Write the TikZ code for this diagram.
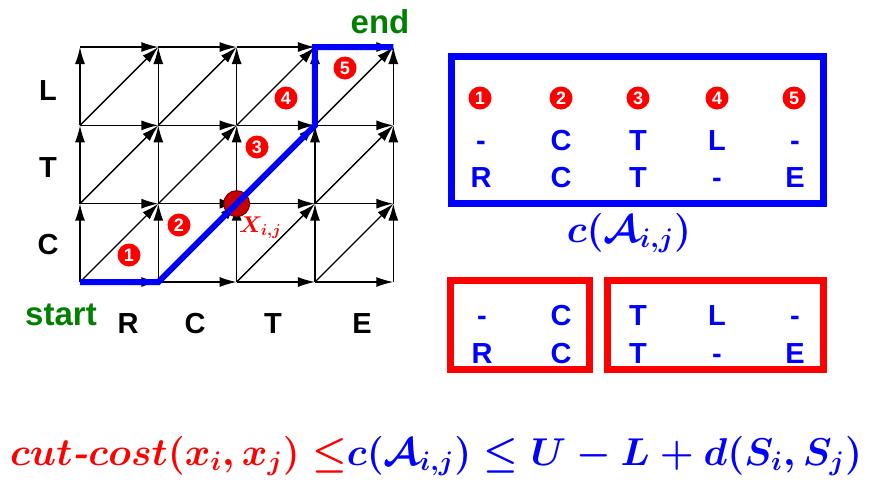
\documentclass[tikz,border=0pt]{standalone}
\usepackage{graphicx}
\usepackage{fontspec}
\newfontfamily\hv{Liberation Sans}
\usetikzlibrary{arrows.meta}
\definecolor{dgreen}{RGB}{0,128,0}
\definecolor{dred}{RGB}{200,0,0}
\definecolor{ddred}{RGB}{110,0,0}
\definecolor{pblue}{RGB}{0,0,255}
\definecolor{pred}{RGB}{255,0,0}
\newcommand{\bigmath}[1]{\scalebox{1.87}{\fontsize{20.74}{24}\selectfont\boldmath$#1$}}
\begin{document}
\begin{tikzpicture}[x=1pt,y=-1pt,
  arr/.style={-{Latex[length=17pt,width=10pt]}, line width=1.4pt, black},
  letter/.style={anchor=base, inner sep=0pt, font=\hv\bfseries\fontsize{29}{30}\selectfont},
  boxtxt/.style={letter, text=pblue},
  greentxt/.style={anchor=base, inner sep=0pt, text=dgreen, font=\hv\bfseries\fontsize{33}{34}\selectfont},
  num/.style={circle, fill=pred, text=white, inner sep=0pt, minimum size=23pt, font=\hv\bfseries\fontsize{18}{18}\selectfont},
  bluebox/.style={draw=pblue, line width=7pt},
  redbox/.style={draw=pred, line width=7pt},
  mathlbl/.style={inner sep=0pt}
]
\useasboundingbox (0,0) rectangle (884,480);
% grid points
\foreach \i in {0,...,4} \foreach \j in {0,...,3}
  \coordinate (g\i\j) at ({80+78.33*\i},{282-78.33*\j});
% horizontal arrows
\foreach \i in {0,...,3} \foreach \j in {0,...,3} {
  \pgfmathtruncatemacro{\ii}{\i+1}
  \draw[arr] (g\i\j) -- (g\ii\j);
}
% vertical arrows
\foreach \i in {0,...,4} \foreach \j in {0,...,2} {
  \pgfmathtruncatemacro{\jj}{\j+1}
  \draw[arr] (g\i\j) -- (g\i\jj);
}
% diagonal arrows
\foreach \i in {0,...,3} \foreach \j in {0,...,2} {
  \pgfmathtruncatemacro{\ii}{\i+1}
  \pgfmathtruncatemacro{\jj}{\j+1}
  \draw[arr] (g\i\j) -- (g\ii\jj);
}
% red point
\node[circle, fill=dred, draw=ddred, line width=1pt, minimum size=26pt, inner sep=0pt] (xp) at (g21) {};
% blue path
\draw[pblue, line width=6pt] (g00) -- (g10) -- (g32) -- (g33) -- (g43);
\node[anchor=base west, inner sep=0pt, text=pred] (xl) at (239,232) {\scalebox{1.1}{\fontsize{20.74}{24}\selectfont\boldmath$X_{i,j}$}};
% numbered markers in grid
\node[num] (m1) at (129,255) {1};
\node[num] (m2) at (179,225) {2};
\node[num] (m3) at (257,147) {3};
\node[num] (m4) at (286,98) {4};
\node[num] (m5) at (345,68) {5};
% row / column labels
\node[letter] (rl) at (48,100) {L};
\node[letter] (rt) at (48,177) {T};
\node[letter] (rc) at (48,254) {C};
\node[letter] (cr) at (128,333) {R};
\node[letter] (cc) at (195,333) {C};
\node[letter] (ct) at (273,333) {T};
\node[letter] (ce) at (362,333) {E};
\node[greentxt] (start) at (61,325) {start};
\node[greentxt] (end) at (380,33) {end};
% blue box
\draw[bluebox] (451.5,56.5) rectangle (823.5,203.5);
\node[num] (b1) at (480,98) {1};
\node[num] (b2) at (561,98) {2};
\node[num] (b3) at (638,98) {3};
\node[num] (b4) at (717,98) {4};
\node[num] (b5) at (794,98) {5};
\node[boxtxt] (bt1) at (481,150) {-};
\node[boxtxt] (bt2) at (561,150) {C};
\node[boxtxt] (bt3) at (638,150) {T};
\node[boxtxt] (bt4) at (717,150) {L};
\node[boxtxt] (bt5) at (795,150) {-};
\node[boxtxt] (bb1) at (481,187) {R};
\node[boxtxt] (bb2) at (561,187) {C};
\node[boxtxt] (bb3) at (638,187) {T};
\node[boxtxt] (bb4) at (717,187) {-};
\node[boxtxt] (bb5) at (795,187) {E};
\node[mathlbl, text=pblue] (costlabel) at (629,233) {\bigmath{c(\mathcal{A}_{i,j})}};
% red boxes
\draw[redbox] (450.5,280.5) rectangle (589.5,369.5);
\draw[redbox] (607.5,280.5) rectangle (823.5,369.5);
\node[boxtxt] (rt1) at (482,325) {-};
\node[boxtxt] (rt2) at (561,325) {C};
\node[boxtxt] (rt3) at (638,325) {T};
\node[boxtxt] (rt4) at (717,325) {L};
\node[boxtxt] (rt5) at (795,325) {-};
\node[boxtxt] (rb1) at (482,363) {R};
\node[boxtxt] (rb2) at (561,363) {C};
\node[boxtxt] (rb3) at (638,363) {T};
\node[boxtxt] (rb4) at (717,363) {-};
\node[boxtxt] (rb5) at (795,363) {E};
% formula
\node[mathlbl, anchor=base] (formula) at (436,465) {\bigmath{\color{pred}cut\textbf{\textit{-}}cost(x_i,x_j)\;{\le}\color{pblue}c(\mathcal{A}_{i,j})\le U-L+d(S_i,S_j)}};
\end{tikzpicture}
\end{document}
